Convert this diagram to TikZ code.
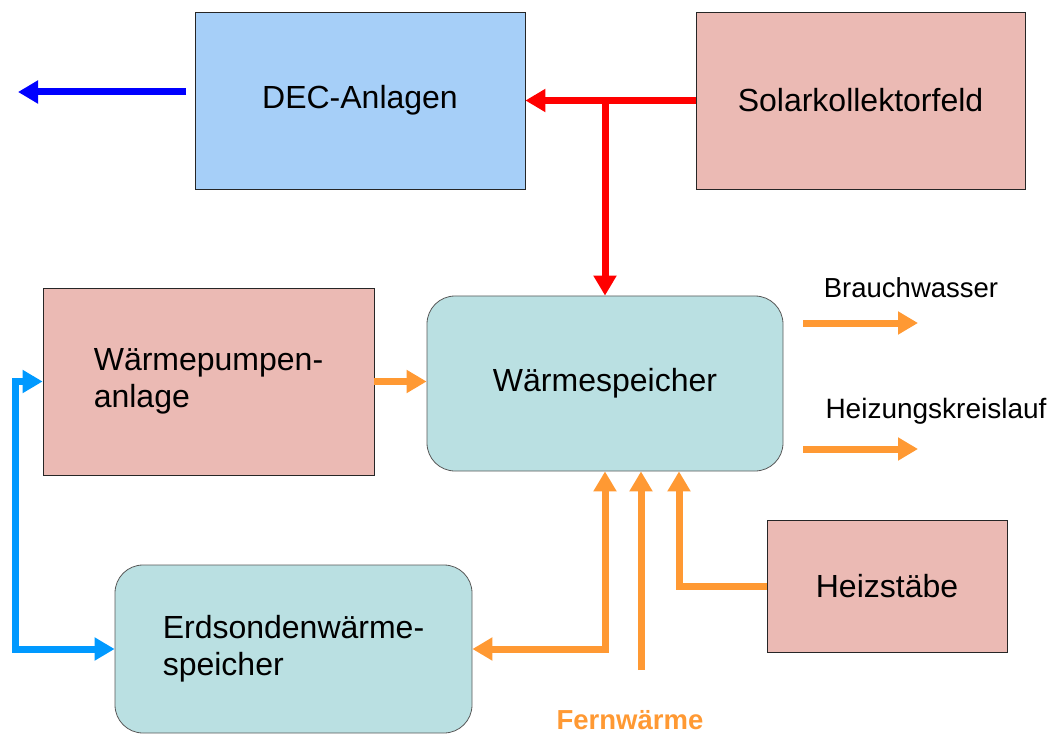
\documentclass[tikz,border=0pt]{standalone}
\usepackage{fontspec}
\setmainfont{Liberation Sans}
\usetikzlibrary{arrows.meta}
\definecolor{decblue}{RGB}{166,207,248}
\definecolor{boxpink}{RGB}{235,186,180}
\definecolor{boxteal}{RGB}{186,224,226}
\definecolor{heatorange}{RGB}{255,153,51}
\definecolor{loopblue}{RGB}{0,153,255}
\begin{document}
\begin{tikzpicture}[x=1pt,y=-1pt,
  box/.style={draw=black!85, line width=0.8pt, inner sep=0pt, align=left,
    font=\fontsize{32}{37}\selectfont},
  roundbox/.style={box, draw=black!65, fill=boxteal, rounded corners=28pt},
  flow/.style={line width=7pt, -{Triangle[length=20pt,width=22pt]}},
  flows/.style={line width=7pt, {Triangle[length=20pt,width=22pt]}-{Triangle[length=20pt,width=22pt]}},
  lbl/.style={font=\fontsize{27.5}{32}\selectfont}]
\useasboundingbox (0,0) rectangle (1052,735);

% boxes
\node[box, fill=decblue, minimum width=330pt, minimum height=177pt] (dec) at (360,100.5) {DEC-Anlagen};
\node[box, fill=boxpink, minimum width=329pt, minimum height=177pt] (sol) at (860.5,100.5) {Solarkollektorfeld};
\node[box, fill=boxpink, minimum width=331pt, minimum height=187pt] (wp) at (208.5,381.5) {Wärmepumpen-\\anlage};
\node[roundbox, minimum width=356pt, minimum height=175pt] (spk) at (605,383.5) {Wärmespeicher};
\node[box, fill=boxpink, minimum width=240pt, minimum height=132pt] (hz) at (887,586) {Heizstäbe};
\node[roundbox, minimum width=357pt, minimum height=168pt] (erd) at (293.5,649) {Erdsondenwärme-\\speicher};

% labels
\node[lbl] (bw) at (911,288) {Brauchwasser};
\node[lbl, font=\fontsize{28}{32}\selectfont] (hk) at (936,411) {Heizungskreislauf};
\node[lbl, font=\fontsize{27.5}{32}\selectfont\bfseries, text=heatorange] (fw) at (630,720) {Fernwärme};

% free ends
\coordinate (decout) at (186,92);
\coordinate (kalt) at (18,92);
\coordinate (bwin) at (803,323);
\coordinate (bwout) at (918,323);
\coordinate (hkin) at (803,449);
\coordinate (hkout) at (918,449);
\coordinate (fwin) at (641,670);
\coordinate (lp) at (15,500);

% connectors
\draw[flow, blue] (decout) -- (kalt);
\draw[flow, red] (sol.west) -- (dec.east);
\draw[flow, red] (spk.north |- sol.west) -- (spk.north);
\draw[flow, heatorange] (wp.east) -- (wp.east -| spk.west);
\draw[flow, heatorange] (bwin) -- (bwout);
\draw[flow, heatorange] (hkin) -- (hkout);
\draw[flows, heatorange] (erd.east) -| (spk.south);
\draw[flow, heatorange] (fwin) -- (fwin |- spk.south);
\draw[flow, heatorange] (hz.west) -| ([xshift=74pt]spk.south);
\draw[flows, loopblue] (wp.west) -| (lp) |- (erd.west);
\end{tikzpicture}
\end{document}
